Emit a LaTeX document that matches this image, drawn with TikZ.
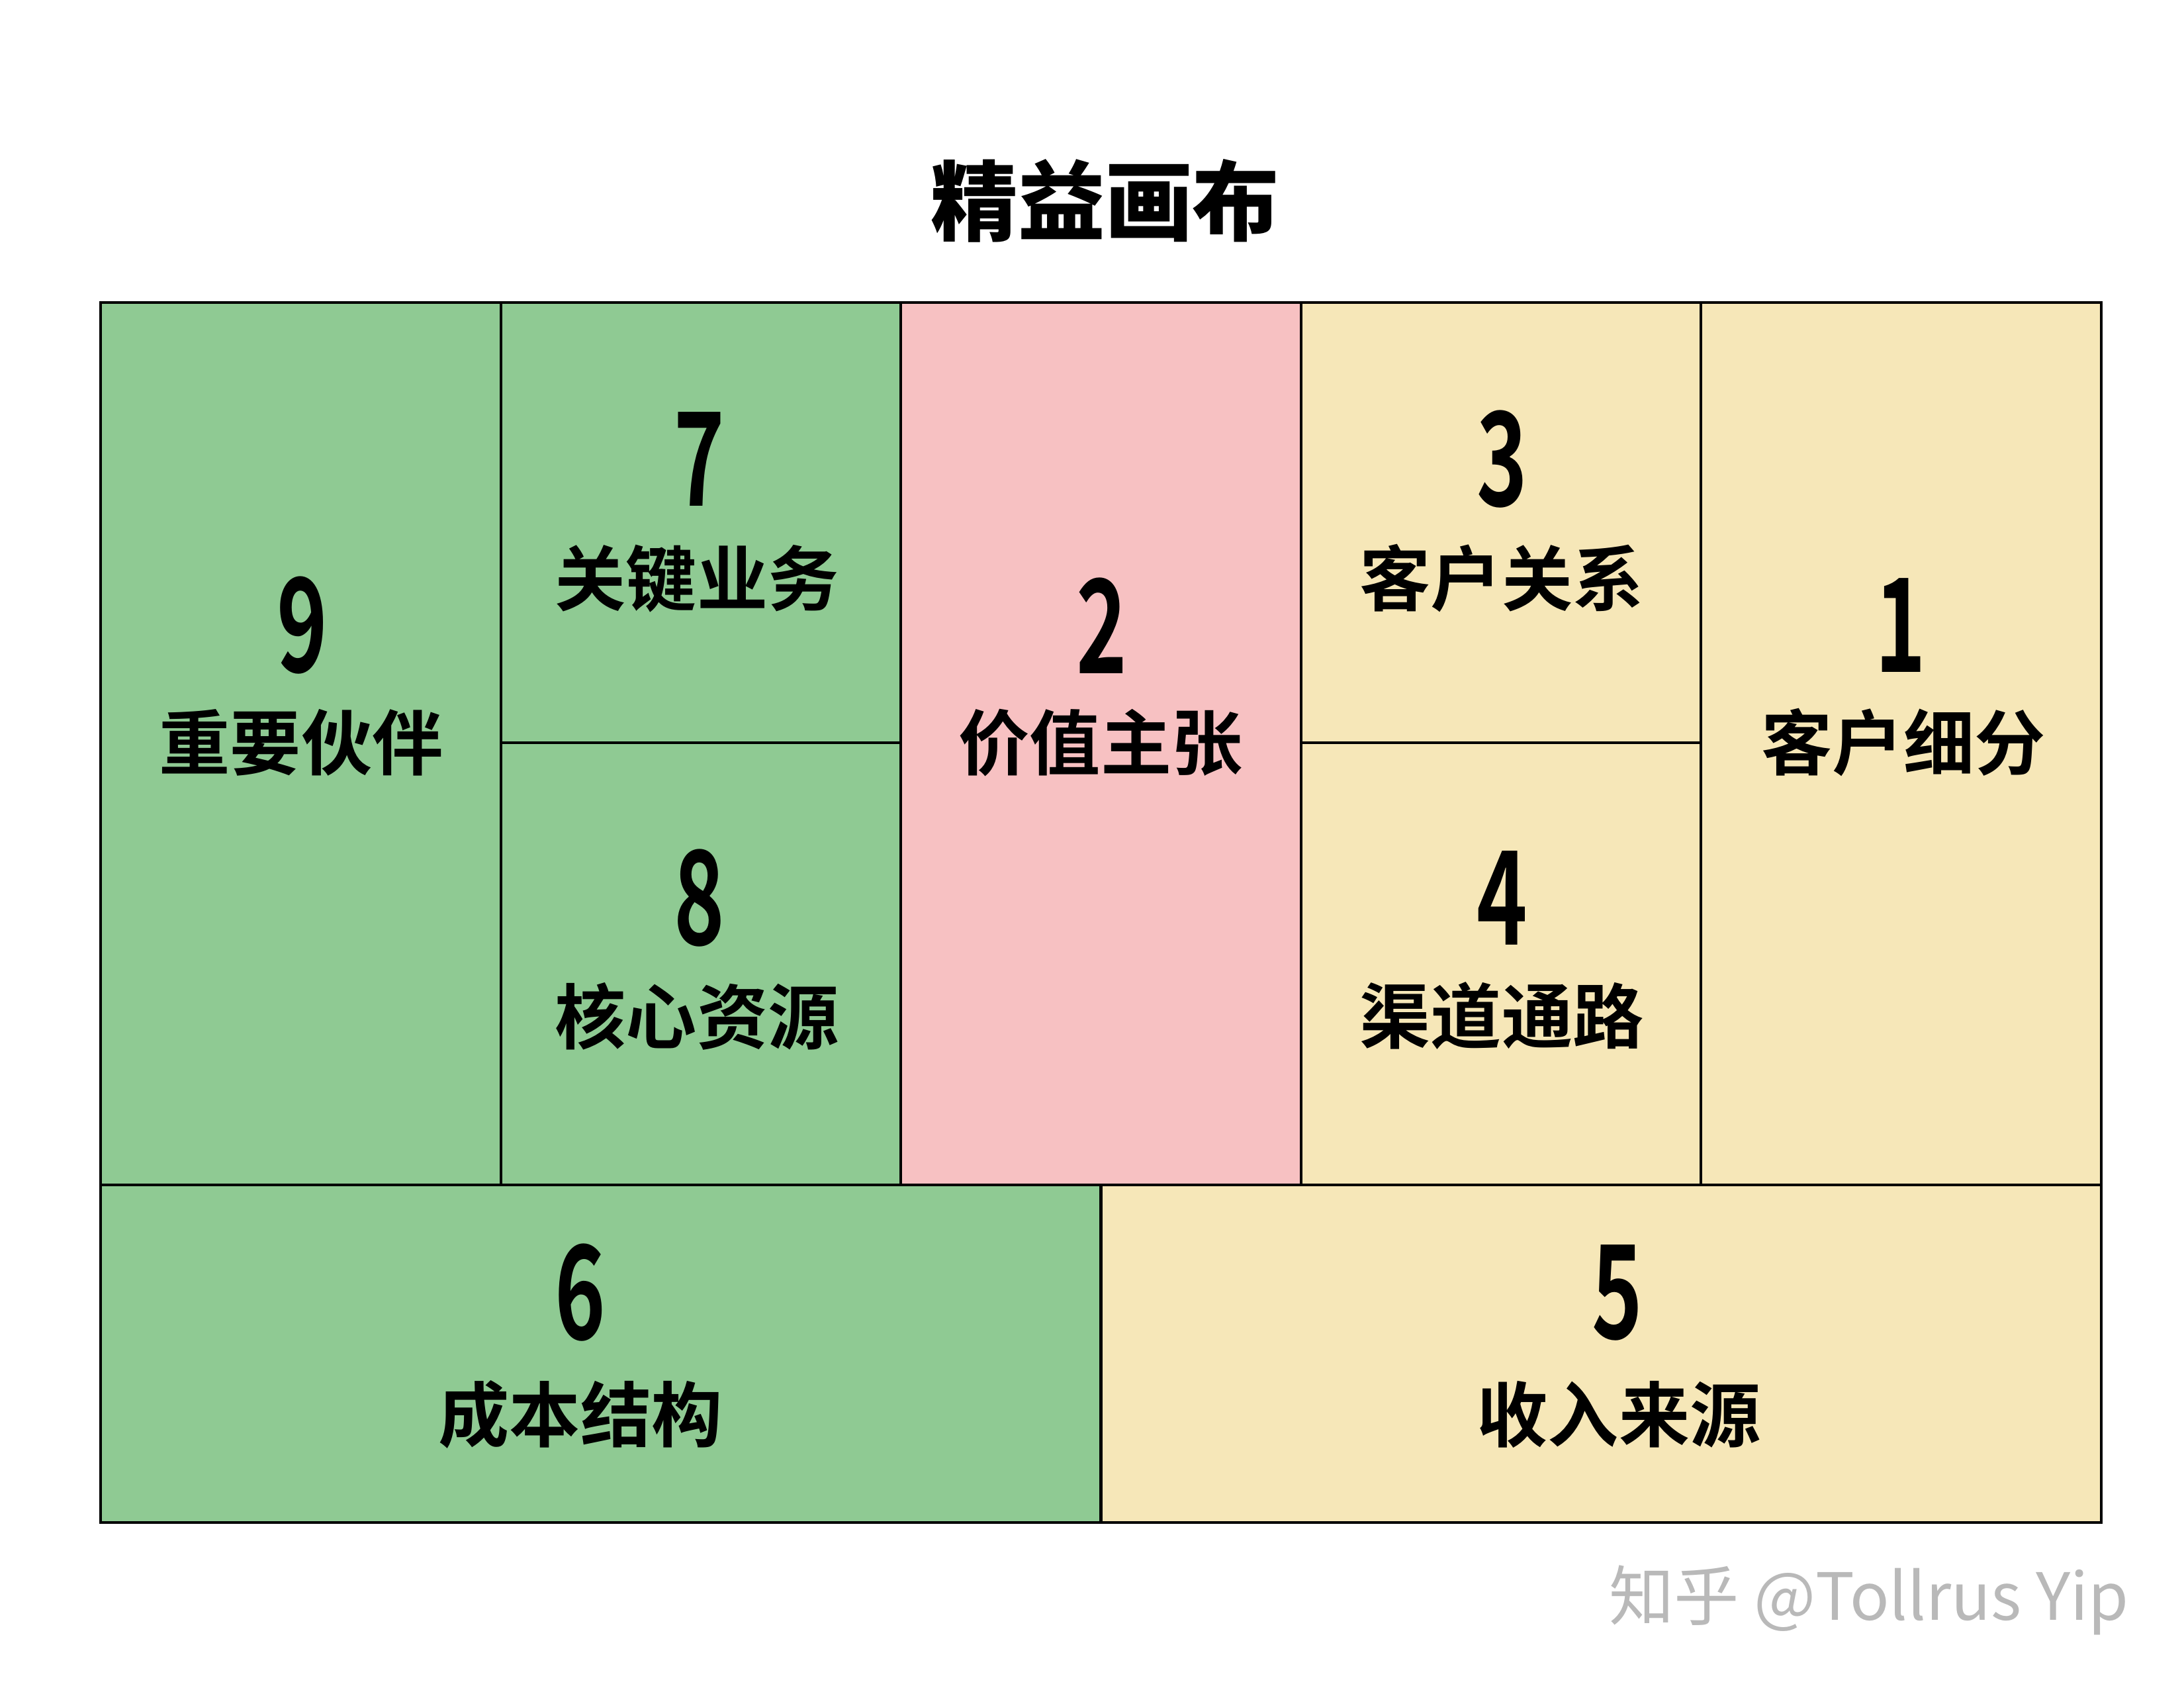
\documentclass[tikz,border=0pt]{standalone}
\usepackage{fontspec}
\usepackage{xcolor}
\usetikzlibrary{positioning}
\newfontfamily\titlefont{Noto Sans CJK SC Black}
\newfontfamily\numfont[FakeStretch=0.66]{Noto Sans CJK SC Bold}
\newfontfamily\cjkbold{Noto Sans CJK SC Bold}
\newfontfamily\markfont{Noto Sans CJK SC}
\definecolor{canvasgreen}{RGB}{143,202,147}
\definecolor{canvaspink}{RGB}{247,193,194}
\definecolor{canvasyellow}{RGB}{246,231,184}
\tikzset{
  cell/.style={draw=black, line width=0.045cm},
  num/.style={inner sep=0pt, font=\numfont\fontsize{56pt}{60pt}\selectfont},
  lbl/.style={inner sep=0pt, font=\cjkbold\fontsize{30.5pt}{34pt}\selectfont}
}

\begin{document}
\begin{tikzpicture}
\useasboundingbox (0,0) rectangle (33,25.5);

% Title
\node[inner sep=0pt, font=\titlefont\fontsize{37.5pt}{40pt}\selectfont] (title) at (16.70,22.47) {精益画布};

% Cells
\draw[cell, fill=canvasgreen] (1.52,7.60) rectangle (7.57,20.93);
\draw[cell, fill=canvasgreen] (7.57,14.28) rectangle (13.61,20.93);
\draw[cell, fill=canvasgreen] (7.57,7.60) rectangle (13.61,14.28);
\draw[cell, fill=canvaspink] (13.61,7.60) rectangle (19.66,20.93);
\draw[cell, fill=canvasyellow] (19.66,14.28) rectangle (25.70,20.93);
\draw[cell, fill=canvasyellow] (19.66,7.60) rectangle (25.70,14.28);
\draw[cell, fill=canvasyellow] (25.70,7.60) rectangle (31.75,20.93);
\draw[cell, fill=canvasgreen] (1.52,2.50) rectangle (16.635,7.60);
\draw[cell, fill=canvasyellow] (16.635,2.50) rectangle (31.75,7.60);

% Key partners
\node[num] (n9) at (4.57,16.05) {9};
\node[lbl] (l9) at (4.55,14.28) {重要伙伴};

% Key activities
\node[num] (n7) at (10.57,18.56) {7};
\node[lbl] (l7) at (10.53,16.76) {关键业务};

% Key resources
\node[num] (n8) at (10.57,11.93) {8};
\node[lbl] (l8) at (10.53,10.15) {核心资源};

% Value proposition
\node[num] (n2) at (16.65,16.05) {2};
\node[lbl] (l2) at (16.63,14.28) {价值主张};

% Customer relationships
\node[num] (n3) at (22.70,18.56) {3};
\node[lbl] (l3) at (22.69,16.76) {客户关系};

% Channels
\node[num] (n4) at (22.70,11.93) {4};
\node[lbl] (l4) at (22.69,10.15) {渠道通路};

% Customer segments
\node[num] (n1) at (28.72,16.05) {1};
\node[lbl] (l1) at (28.76,14.28) {客户细分};

% Cost structure
\node[num] (n6) at (8.77,5.97) {6};
\node[lbl] (l6) at (8.77,4.13) {成本结构};

% Revenue streams
\node[num] (n5) at (24.44,5.97) {5};
\node[lbl] (l5) at (24.46,4.13) {收入来源};

% Watermark
\node[anchor=base, inner sep=0pt, text=gray!55, font=\markfont\fontsize{28pt}{32pt}\selectfont] (mark) at (28.24,1.02) {知乎 @Tollrus Yip};
\end{tikzpicture}
\end{document}
